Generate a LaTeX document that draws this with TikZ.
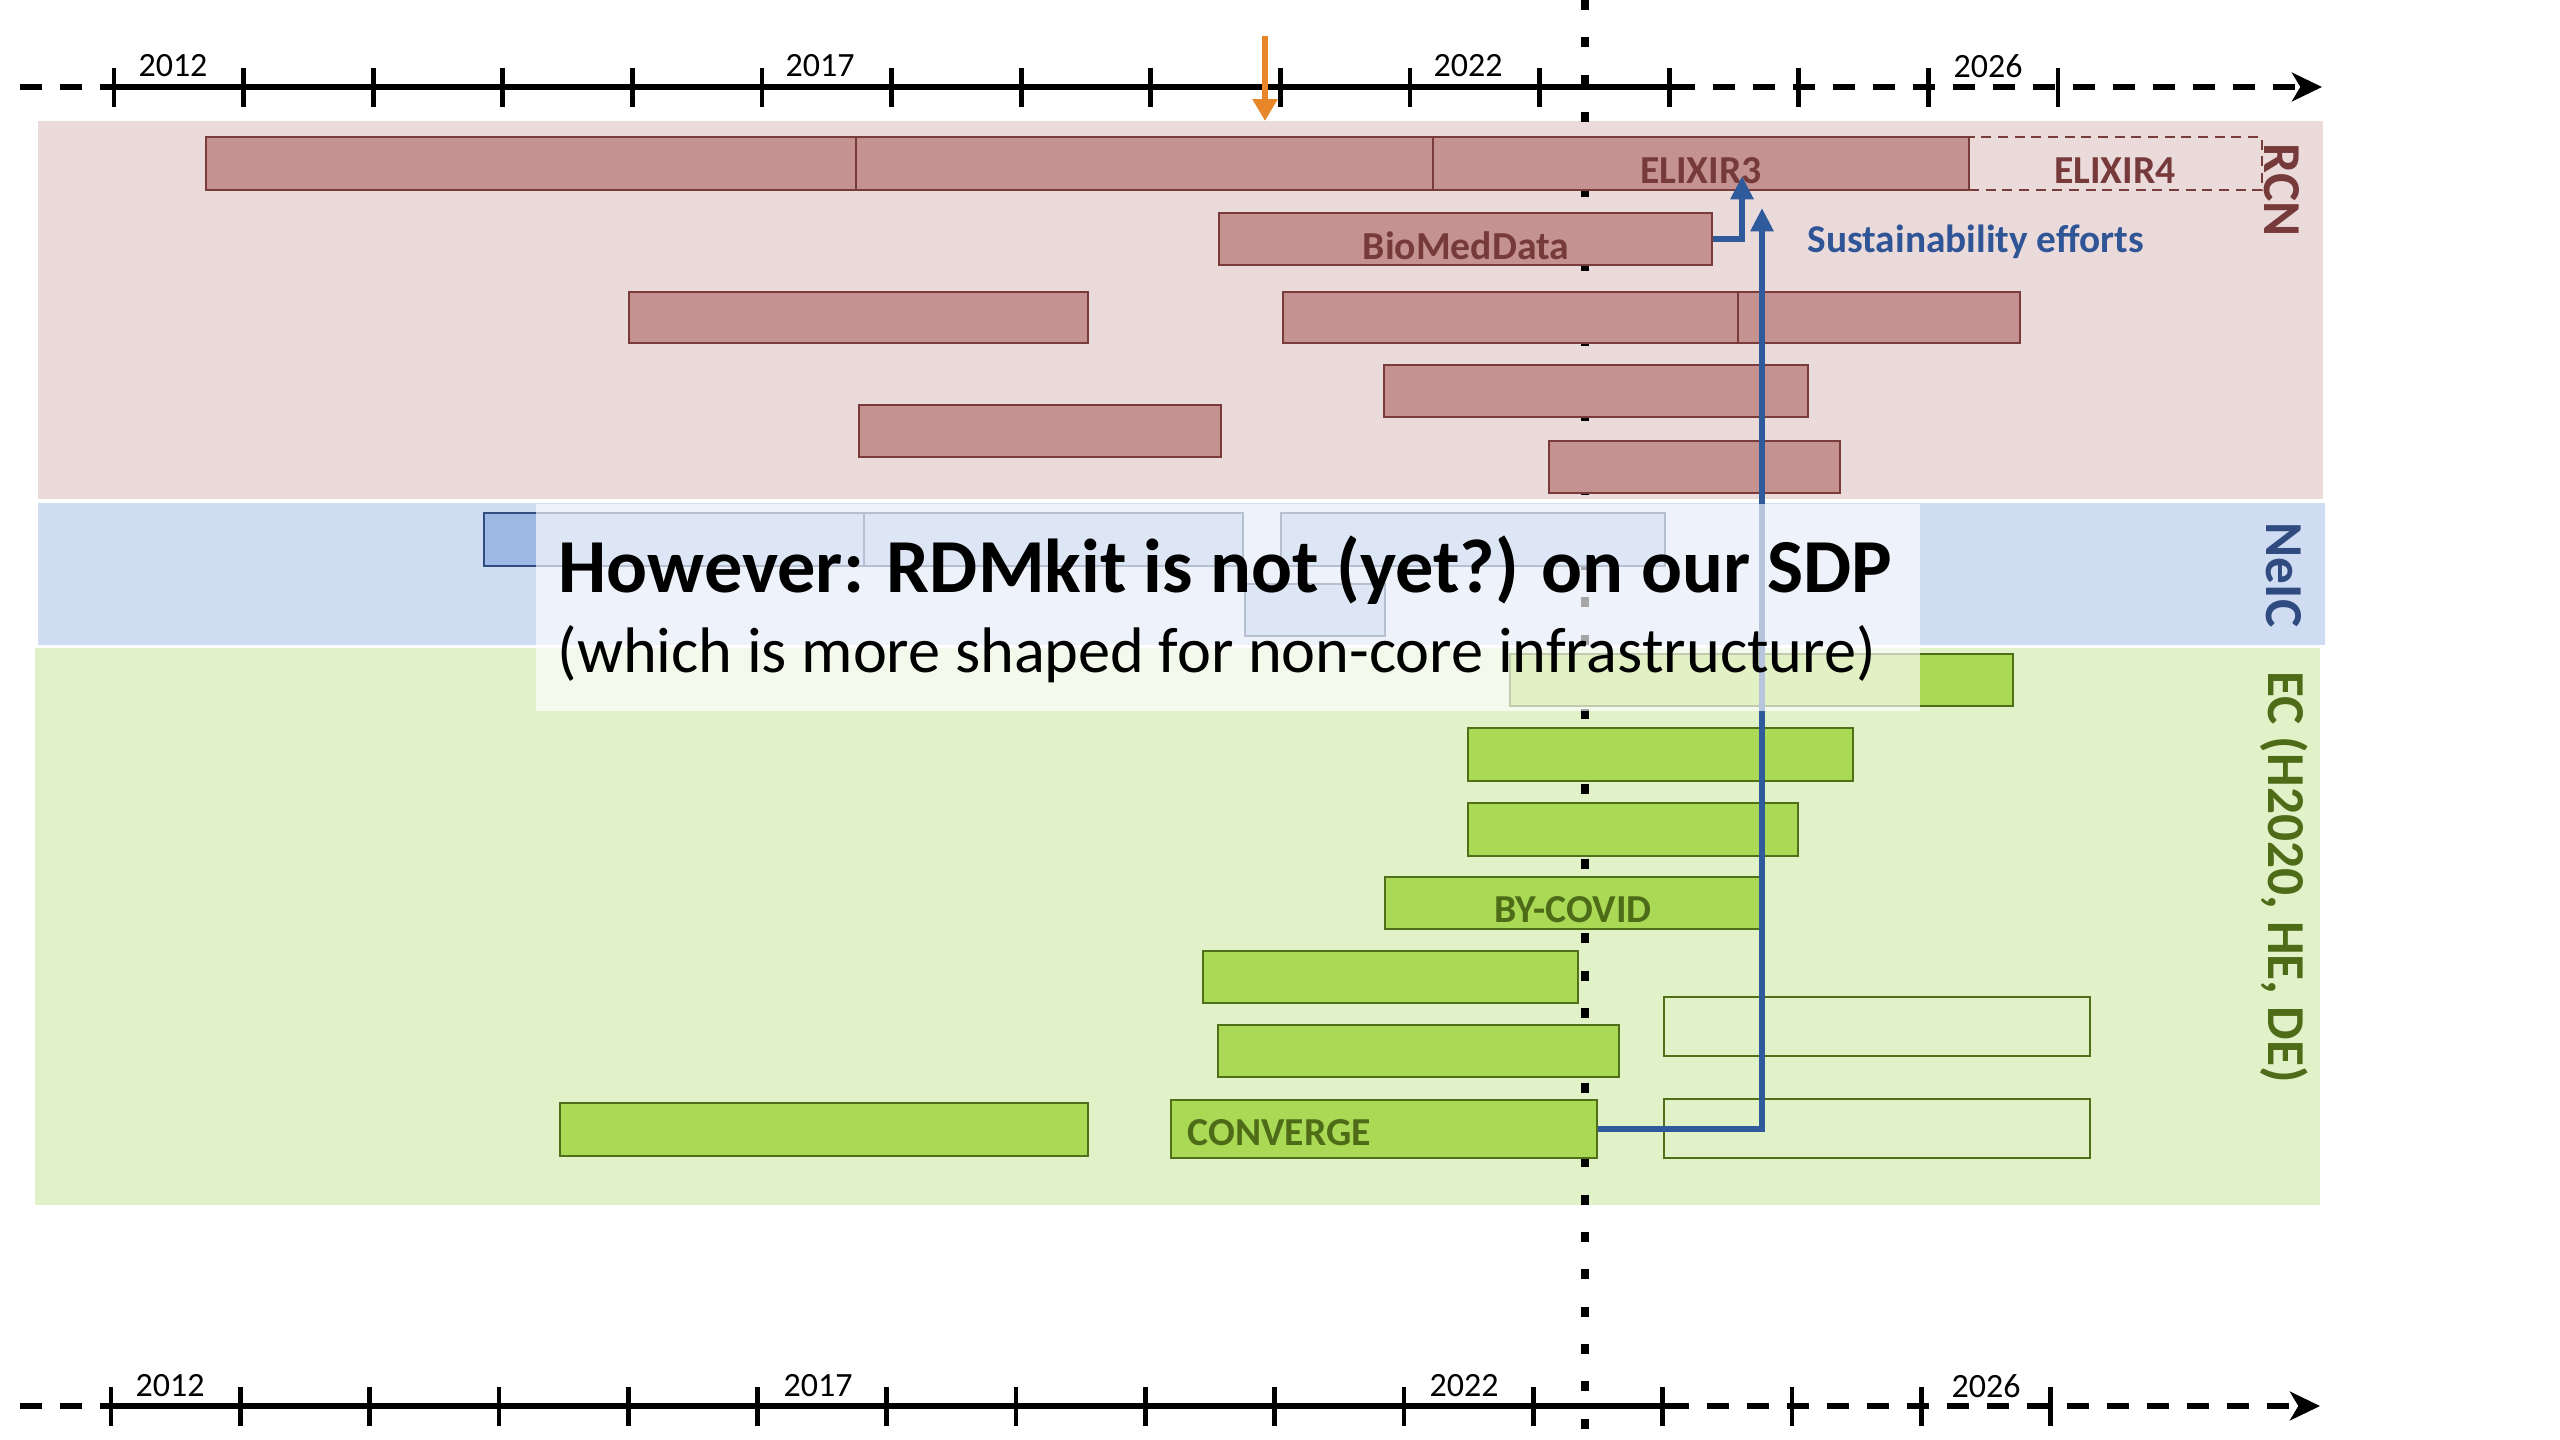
\documentclass[tikz,border=0pt]{standalone}
\usepackage{fontspec}
\setmainfont{Carlito}
\usetikzlibrary{arrows.meta,fit}
\definecolor{pinkband}{HTML}{EBDADA}
\definecolor{rfill}{HTML}{C49391}
\definecolor{rline}{HTML}{7A3B3B}
\definecolor{rtext}{HTML}{773A3A}
\definecolor{blueband}{HTML}{CFDCF2}
\definecolor{bfill}{HTML}{9DB9E3}
\definecolor{bline}{HTML}{2F4D7E}
\definecolor{btext}{HTML}{2F4B80}
\definecolor{greenband}{HTML}{E1F1C8}
\definecolor{gfill}{HTML}{AAD955}
\definecolor{gline}{HTML}{4F6F19}
\definecolor{gtext}{HTML}{4E6B18}
\definecolor{conn}{HTML}{2F5B9C}
\definecolor{sust}{HTML}{2F5597}
\definecolor{orng}{HTML}{E8872A}
\begin{document}
\begin{tikzpicture}[x=0.3pt,y=-0.3pt,
  band/.style={inner sep=0pt,draw=none},
  rbar/.style={fill=rfill,draw=rline,line width=0.75pt,inner sep=0pt},
  rdashbar/.style={draw=rline,line width=0.75pt,inner sep=0pt,dash pattern=on 3pt off 2pt},
  bbar/.style={fill=bfill,draw=bline,line width=0.75pt,inner sep=0pt},
  gbar/.style={fill=gfill,draw=gline,line width=0.75pt,inner sep=0pt},
  gopen/.style={draw=gline,line width=0.75pt,inner sep=0pt},
  barlbl/.style={font=\bfseries\fontsize{11.9}{13}\selectfont,inner sep=0pt},
  sidelbl/.style={font=\bfseries\fontsize{16}{18}\selectfont,rotate=-90,inner sep=0pt},
  yearlbl/.style={font=\fontsize{10.2}{12}\selectfont,inner sep=0pt},
  axis/.style={line width=1.8pt},
  axisdash/.style={line width=1.8pt,dash pattern=on 6.6pt off 5.4pt},
  tickmark/.style={line width=1.4pt},
  connector/.style={draw=conn,line width=2pt},
]
\useasboundingbox (0,0) rectangle (2560,1440);

% bands
\node[band,fill=pinkband,fit={(38,121)(2323,499)}] (rcnband) {};
\node[band,fill=blueband,fit={(38,503)(2325,645)}] (neicband) {};
\node[band,fill=greenband,fit={(35,648)(2320,1205)}] (ecband) {};

% vertical dotted "today" line
\coordinate (todaytop) at (1585,0);
\coordinate (todaybot) at (1585,1440);
\draw[line width=2.5pt,dash pattern=on 3pt off 8.2pt] (todaytop) -- (todaybot);

% top timeline
\coordinate (ta0) at (20,87);
\coordinate (ta1) at (114,87);
\coordinate (ta2) at (1673,87);
\coordinate (ta3) at (2322,87);
\draw[axisdash] (ta0) -- (ta1);
\draw[axis] (ta1) -- (ta2);
\draw[axisdash,-{Stealth[length=9pt,width=8.6pt,inset=2.5pt]}] (ta2) -- (ta3);
\foreach \i in {0,...,15} \draw[tickmark] ({114+129.6*\i},68) -- ++(0,39);
\node[yearlbl] (yt12) at (173,66) {2012};
\node[yearlbl] (yt17) at (820,66) {2017};
\node[yearlbl] (yt22) at (1468,66) {2022};
\node[yearlbl] (yt26) at (1988,66) {2026};

% bottom timeline
\coordinate (ba0) at (20,1406);
\coordinate (ba1) at (111,1406);
\coordinate (ba2) at (1667,1406);
\coordinate (ba3) at (2320,1406);
\draw[axisdash] (ba0) -- (ba1);
\draw[axis] (ba1) -- (ba2);
\draw[axisdash,-{Stealth[length=9pt,width=8.6pt,inset=2.5pt]}] (ba2) -- (ba3);
\foreach \i in {0,...,15} \draw[tickmark] ({111+129.3*\i},1387) -- ++(0,39);
\node[yearlbl] (yb12) at (170,1386) {2012};
\node[yearlbl] (yb17) at (818,1386) {2017};
\node[yearlbl] (yb22) at (1464,1386) {2022};
\node[yearlbl] (yb26) at (1986,1386) {2026};

% orange marker
\coordinate (orgtop) at (1265,36);
\coordinate (orgtip) at (1265,121);
\draw[orng,line width=2pt,-{Triangle[length=6.6pt,width=7.2pt]}] (orgtop) -- (orgtip);

% RCN bars
\node[rbar,fit={(206,137)(856,190)}] (r1a) {};
\node[rbar,fit={(856,137)(1433,190)}] (r1b) {};
\node[rbar,fit={(1433,137)(1969,190)}] (elixir3) {};
\node[rdashbar,fit={(1969,137)(2262,190)}] (elixir4) {};
\node[rbar,fit={(1219,213)(1712,265)}] (bmd) {};
\node[rbar,fit={(629,292)(1088,343)}] (r3a) {};
\node[rbar,fit={(1283,292)(1738,343)}] (r3b) {};
\node[rbar,fit={(1738,292)(2020,343)}] (r3c) {};
\node[rbar,fit={(1384,365)(1808,417)}] (r4) {};
\node[rbar,fit={(859,405)(1221,457)}] (r5) {};
\node[rbar,fit={(1549,441)(1840,493)}] (r6) {};

\node[barlbl,text=rtext] (elixir3l) at (1701,171) {ELIXIR3};
\node[barlbl,text=rtext] (elixir4l) at (2115,171) {ELIXIR4};
\node[barlbl,text=rtext] (bmdl) at (1466,246) {BioMedData};

% NeIC bars
\node[bbar,fit={(484,513)(864,566)}] (n1a) {};
\node[bbar,fit={(864,513)(1243,566)}] (n1b) {};
\node[bbar,fit={(1281,513)(1665,566)}] (n1c) {};
\node[bbar,fit={(1245,584)(1385,636)}] (n2) {};

% EC bars
\node[gbar,fit={(1510,654)(2013,706)}] (g1) {};
\node[gbar,fit={(1468,728)(1853,781)}] (g2) {};
\node[gbar,fit={(1468,803)(1798,856)}] (g3) {};
\node[gbar,fit={(1385,877)(1762,929)}] (bycovid) {};
\node[gbar,fit={(1203,951)(1578,1003)}] (g5) {};
\node[gbar,fit={(1218,1025)(1619,1077)}] (g6) {};
\node[gopen,fit={(1664,997)(2090,1056)}] (g6o) {};
\node[gbar,fit={(560,1103)(1088,1156)}] (g7a) {};
\node[gbar,fit={(1171,1100)(1597,1158)}] (converge) {};
\node[gopen,fit={(1664,1099)(2090,1158)}] (g7o) {};

\node[barlbl,text=gtext] (bycovidl) at (1573,910) {BY-COVID};
\node[barlbl,text=gtext,anchor=west] (convergel) at (1187,1133) {CONVERGE};

% side labels
\node[sidelbl,text=rtext] (rcnl) at (2282,190) {RCN};
\node[sidelbl,text=btext] (neicl) at (2284,575) {NeIC};
\node[sidelbl,text=gtext] (ecl) at (2284,877) {EC (H2020, HE, DE)};

% connectors
\coordinate (tip1) at (1742,176);
\coordinate (tip2) at (1762,208);
\draw[connector,-{Triangle[length=7pt,width=6.6pt]}] (bmd.east) -| (tip1);
\draw[connector,-{Triangle[length=7pt,width=6.6pt]}] (converge.east) -| (tip2);
\node[font=\bfseries\fontsize{11.8}{13}\selectfont,text=sust,anchor=base west,inner sep=0pt] (sustl) at (1807,252) {Sustainability efforts};

% overlay
\node[band,fill=white,fill opacity=0.65,fit={(536,504)(1920,711)}] (overlay) {};
\node[anchor=base west,inner sep=0pt,font=\bfseries\fontsize{22.9}{26}\selectfont] (ovt1) at (558,592) {However: RDMkit is not (yet?) on our SDP};
\node[anchor=base west,inner sep=0pt,font=\fontsize{19.3}{22}\selectfont] (ovt2) at (557,672) {(which is more shaped for non-core infrastructure)};
\end{tikzpicture}
\end{document}
